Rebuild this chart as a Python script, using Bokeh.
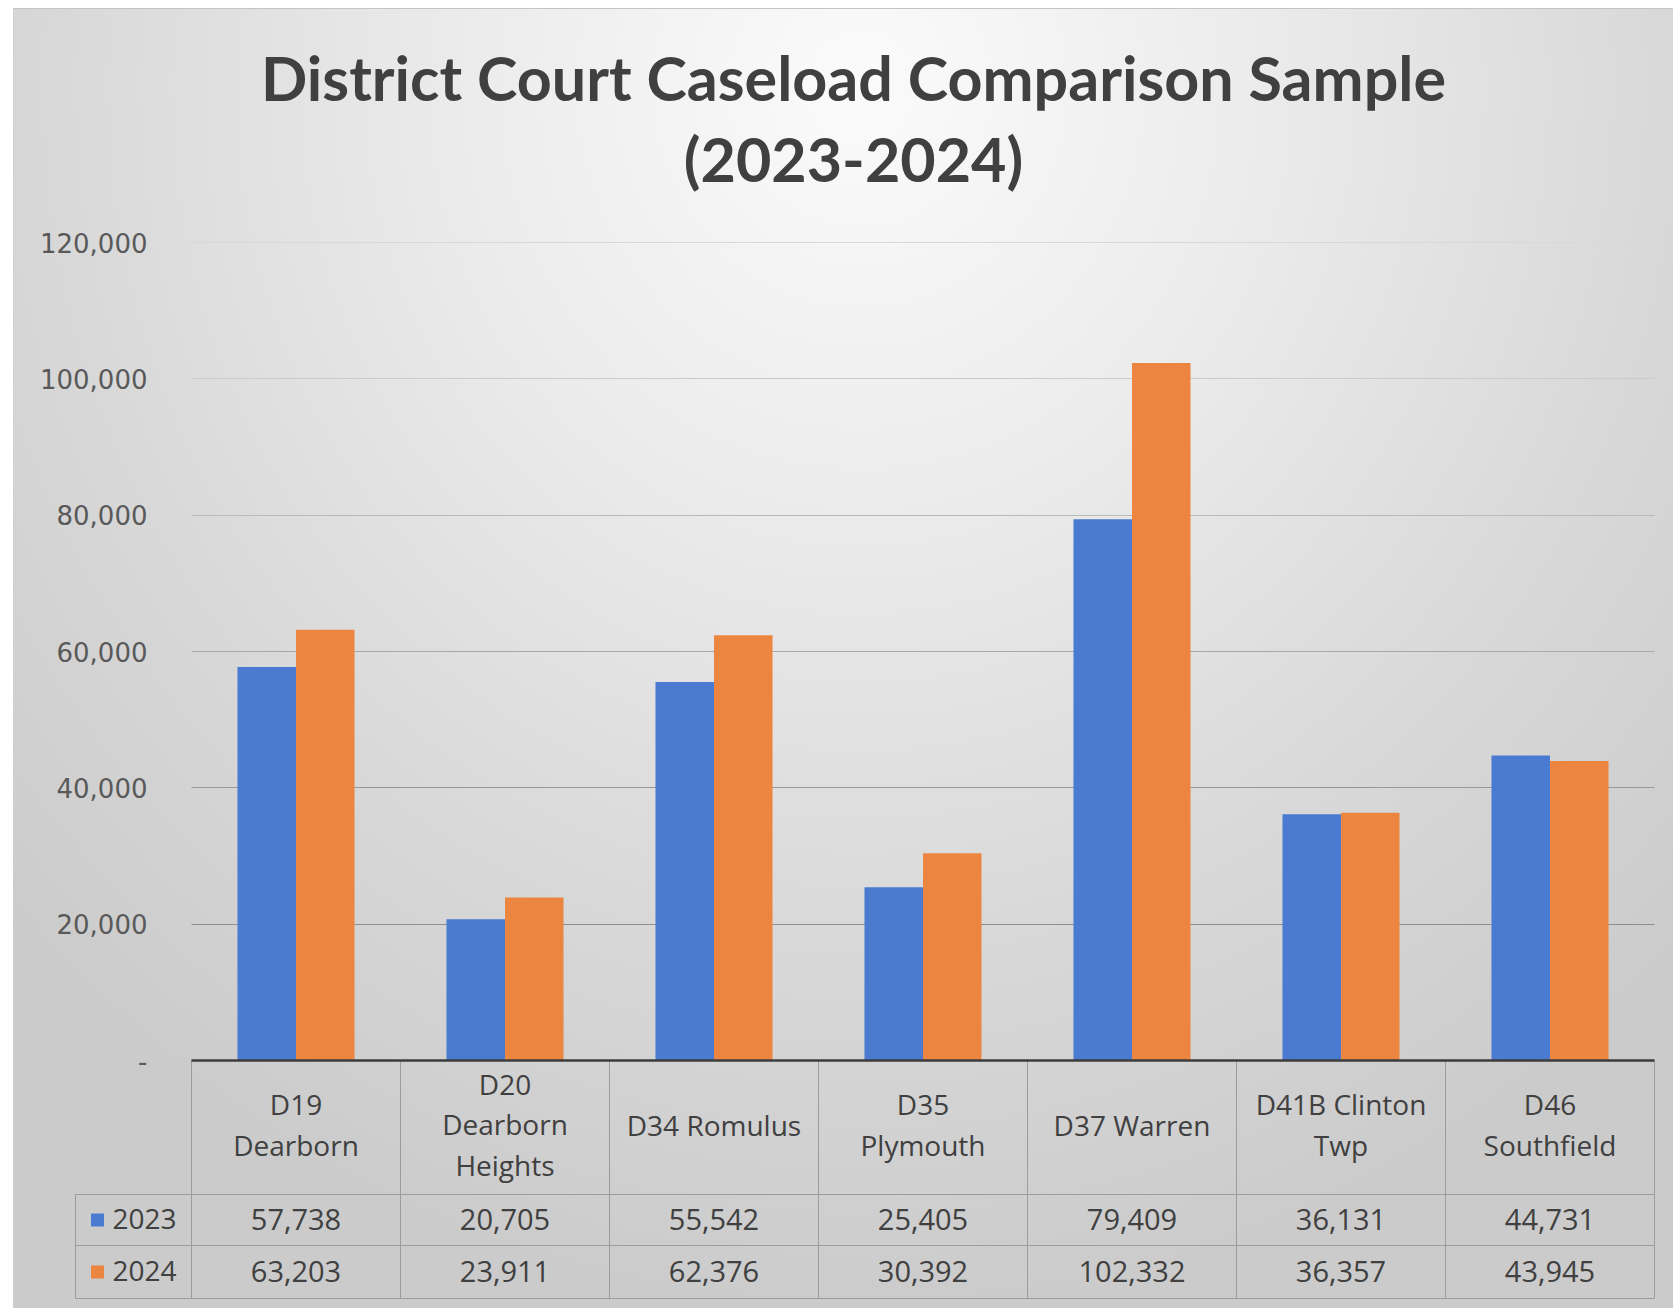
from bokeh.plotting import figure
from bokeh.models import (Range1d, FixedTicker, NumeralTickFormatter, Grid, LinearAxis,
                          ColumnDataSource)
from bokeh.transform import dodge
from bokeh.embed import file_html
from bokeh.resources import INLINE
from bokeh.core.properties import value

# ---------------- data ----------------
categories = ["D19 Dearborn", "D20 Dearborn Heights", "D34 Romulus", "D35 Plymouth",
              "D37 Warren", "D41B Clinton Twp", "D46 Southfield"]
category_labels = ["D19\nDearborn", "D20\nDearborn\nHeights", "D34 Romulus", "D35\nPlymouth",
                   "D37 Warren", "D41B Clinton\nTwp", "D46\nSouthfield"]
years = ["2023", "2024"]
cases_2023 = [57738, 20705, 55542, 25405, 79409, 36131, 44731]
cases_2024 = [63203, 23911, 62376, 30392, 102332, 36357, 43945]
y_ticks = [0, 20000, 40000, 60000, 80000, 100000, 120000]
title_lines = ["District Court Caseload Comparison Sample", "(2023-2024)"]

# ---------------- style / layout ----------------
BLUE = "#4a7bd0"
ORANGE = "#ec8540"
TEXT = "#404040"
TICK_TEXT = "#595959"
TABLE_LINE = "#9c9c9c"
AXIS_LINE = "#3c3c3c"
grid_colors = ["#8e8e8e", "#989898", "#a8a8a8", "#b9b9b9", "#cbcbcb", "#d8d8d8"]

W, H = 1660, 1300
X0, Y0 = 14, 9            # page position of the plotting canvas
CAT_W = 209.0             # pixels per category
CAT_LEFT = 191.0          # page x of first category edge
ZERO_Y, TOP_Y = 1060.0, 242.0
n = len(categories)
k = y_ticks[-1] / (ZERO_Y - TOP_Y)

x_start = (X0 - CAT_LEFT) / CAT_W
x_end = (X0 + W - CAT_LEFT) / CAT_W
y_end = y_ticks[-1] + (TOP_Y - Y0) * k
y_start = -(Y0 + H - ZERO_Y) * k

p = figure(width=W, height=H, x_range=Range1d(x_start, x_end), y_range=Range1d(y_start, y_end),
           output_backend="svg", toolbar_location=None,
           x_axis_location=None, y_axis_location=None,
           min_border_left=0, min_border_right=0, min_border_top=0, min_border_bottom=0)
p.extra_x_ranges = {"px": Range1d(X0, X0 + W)}
p.extra_y_ranges = {"px": Range1d(Y0 + H, Y0)}
p.background_fill_color = None
p.border_fill_color = None
p.outline_line_color = None
p.xgrid.visible = False
p.ygrid.visible = False

# ---------------- title ----------------
p.text(x=[853, 853], y=[77, 158], text=title_lines, x_range_name="px", y_range_name="px",
       text_font=value("Lato"), text_font_style="bold", text_font_size="61px",
       text_color=TEXT, text_align="center", text_baseline="middle")

# ---------------- value axis ----------------
yax = LinearAxis(fixed_location=0, ticker=FixedTicker(ticks=y_ticks),
                 formatter=NumeralTickFormatter(format="0,0"))
yax.major_label_overrides = {0: "-"}
yax.axis_line_color = None
yax.major_tick_line_color = None
yax.minor_tick_line_color = None
yax.major_label_standoff = 38
yax.major_label_text_font = "DejaVu Sans"
yax.major_label_text_font_size = "26px"
yax.major_label_text_color = TICK_TEXT
p.add_layout(yax, "left")

# gridlines (only across the category area)
use_segments = False
try:
    for t, c in zip(y_ticks[1:], grid_colors):
        p.add_layout(Grid(dimension=1, ticker=FixedTicker(ticks=[t]), cross_bounds=(0, n),
                          grid_line_color=c, grid_line_width=1))
except Exception:
    use_segments = True
if use_segments:
    p.center = [r for r in p.center if not (isinstance(r, Grid) and r.dimension == 1 and r.visible)]
    p.segment(x0=[0] * 6, x1=[n] * 6, y0=y_ticks[1:], y1=y_ticks[1:],
              line_color=grid_colors, line_width=1)

# ---------------- bars ----------------
src = ColumnDataSource(dict(district=categories, pos=[i + 0.5 for i in range(n)],
                            y2023=cases_2023, y2024=cases_2024))
p.vbar(x=dodge("pos", -0.14), top="y2023", width=0.28, source=src,
       fill_color=BLUE, line_color=None)
p.vbar(x=dodge("pos", 0.14), top="y2024", width=0.28, source=src,
       fill_color=ORANGE, line_color=None)

# ---------------- data table ----------------
HDR_TOP, HDR_BOT, ROW1_BOT, ROW2_BOT = 1060, 1194, 1245, 1298
LEG_X = (75 - CAT_LEFT) / CAT_W
bounds = list(range(n + 1))
p.segment(x0=bounds, x1=bounds, y0=[HDR_TOP] * (n + 1), y1=[ROW2_BOT] * (n + 1),
          y_range_name="px", line_color=TABLE_LINE, line_width=1)
p.segment(x0=[LEG_X], x1=[LEG_X], y0=[HDR_BOT], y1=[ROW2_BOT],
          y_range_name="px", line_color=TABLE_LINE, line_width=1)
rows = [HDR_BOT, ROW1_BOT, ROW2_BOT]
p.segment(x0=[LEG_X] * 3, x1=[n] * 3, y0=rows, y1=rows,
          y_range_name="px", line_color=TABLE_LINE, line_width=1)

# category axis line
p.segment(x0=[0], x1=[n], y0=[0], y1=[0], line_color=AXIS_LINE, line_width=2.5)

centers = [i + 0.5 for i in range(n)]
font = value("Open Sans")
p.text(x=centers, y=[(HDR_TOP + HDR_BOT) / 2 - 3] * n, text=category_labels, y_range_name="px",
       text_font=font, text_font_size="28px", text_color=TEXT, text_align="center",
       text_baseline="middle", text_line_height=1.07)
row_y = [(HDR_BOT + ROW1_BOT) / 2, (ROW1_BOT + ROW2_BOT) / 2]
for vals, yy in zip([cases_2023, cases_2024], row_y):
    p.text(x=centers, y=[yy - 1] * n, text=[f"{v:,}" for v in vals], y_range_name="px",
           text_font=font, text_font_size="29px", text_color=TEXT, text_align="center",
           text_baseline="middle")

p.scatter(x=[97, 97], y=row_y, x_range_name="px", y_range_name="px", marker="square",
          size=13, fill_color=[BLUE, ORANGE], line_color=None)
p.text(x=[112, 112], y=[yy - 1 for yy in row_y], text=years, x_range_name="px",
       y_range_name="px", text_font=font, text_font_size="28px", text_color=TEXT,
       text_align="left", text_baseline="middle")

p.margin = (8, 0, 0, 13)
p.styles = {
    "background": "radial-gradient(ellipse 70% 95% at 51% 6%, #fbfbfb 0%, "
                  "#ebebeb 35%, #d8d8d8 70%, #cbcbcb 100%)",
    "border-top": "1px solid #c4c4c4",
    "border-left": "1px solid #d0d0d0",
}

open("out.html", "w").write(file_html(p, INLINE))
